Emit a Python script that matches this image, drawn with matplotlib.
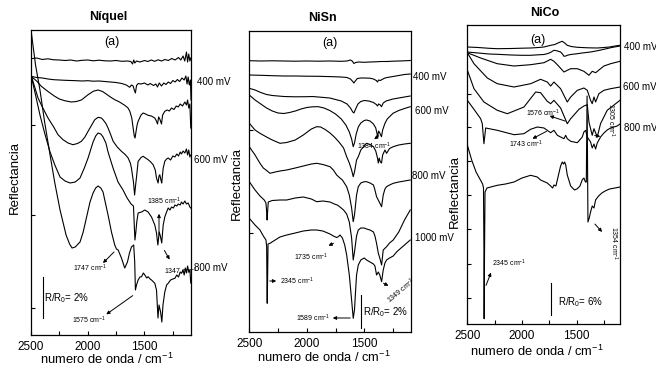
import matplotlib
matplotlib.use("Agg")
import matplotlib.pyplot as plt
from matplotlib.ticker import NullFormatter

plt.rcParams['font.family'] = ['Liberation Sans', 'DejaVu Sans']
plt.rcParams['mathtext.fontset'] = 'custom'
plt.rcParams['mathtext.rm'] = 'Liberation Sans'
plt.rcParams['mathtext.it'] = 'Liberation Sans:italic'

W, H = 656, 367

# ---------------- data (wavenumber cm-1, relative reflectance offset; larger = lower on plot) -------------
x_ticks = [2500, 2000, 1500]
x_minor = [2250, 1750, 1250]
x_labels = ['2500', '2000', '1500']

# Níquel panel
ni_a = [(2500,58.7),(2450,58),(2400,59.5),(2350,58.8),(2300,59.8),(2250,60),(2200,60.5),(2150,60),(2100,61),(2050,60.3),
        (2000,60),(1950,60.8),(1900,60.2),(1850,60.8),(1800,61),(1750,60.5),(1700,61.3),(1650,61),(1620,61.5),(1605,64),
        (1595,60),(1585,63),(1570,61),(1540,62),(1500,60.5),(1470,61.5),(1440,60),(1410,61.3),(1380,59.8),(1350,61),
        (1320,59.5),(1290,60.5),(1260,58.5),(1230,60),(1200,57.5),(1180,60),(1160,56),(1145,61),(1130,52),(1120,62),
        (1110,54),(1100,61),(1092,58)]
ni_b = [(2500,76.3),(2450,77.5),(2400,78),(2350,79),(2300,79.7),(2250,80),(2200,80.3),(2150,80.5),(2100,80.7),(2050,81),
        (2000,80.7),(1950,81.2),(1900,81),(1850,81.5),(1800,82),(1750,82.5),(1700,83.5),(1660,85),(1630,87.3),(1615,85),
        (1600,86),(1590,90),(1580,93),(1570,85.5),(1555,83.5),(1530,84),(1500,83),(1470,85),(1450,83.5),(1420,85.5),
        (1400,84),(1385,87),(1370,83),(1350,86),(1330,83),(1310,84.5),(1290,82),(1270,83.5),(1250,80.5),(1230,82),
        (1210,79.5),(1190,81.5),(1170,78),(1150,80),(1135,76),(1125,84),(1115,77),(1105,85),(1095,80),(1090,100)]
ni_c = [(2500,76.3),(2450,81),(2409,86.3),(2350,91.5),(2291,96.3),(2250,99),(2203,100.7),(2144,102),(2100,101.5),(2056,100),
        (1997,94.7),(1950,91.2),(1909,90),(1870,91.5),(1850,93),(1800,97),(1762,99.7),(1720,102),(1674,105.3),(1645,108),
        (1629,111.3),(1612,118),(1600,128),(1590,136),(1583,138),(1575,132),(1565,125),(1556,121.3),(1530,115),(1512,113),
        (1490,114),(1468,115.3),(1440,116),(1409,118),(1395,121),(1385,124),(1375,117),(1365,119),(1350,124),(1340,115),
        (1321,111.3),(1300,110),(1280,111),(1262,108),(1240,109.5),(1220,106),(1203,107),(1185,104),(1165,106),(1144,102),
        (1130,105),(1120,100),(1110,108),(1100,104),(1092,128)]
ni_d = [(2500,75),(2470,86),(2438,98),(2400,107),(2350,118),(2300,127),(2262,134.7),(2220,139.5),(2174,143),(2130,144.7),
        (2090,143.5),(2056,141.3),(2025,137),(1997,131.3),(1965,125),(1938,119.7),(1909,117.3),(1880,118),(1865,119.7),
        (1840,123.5),(1821,128),(1800,134),(1776,141.3),(1740,147),(1703,151.3),(1670,154.5),(1644,158),(1625,163),
        (1615,168),(1605,176),(1597,182),(1587,195),(1578,185),(1571,178),(1556,161.3),(1530,157.5),(1512,156.3),(1490,158),
        (1468,159.7),(1445,162),(1424,164.7),(1405,170),(1394,178),(1380,183),(1372,176),(1365,174.7),(1355,180),(1348,183),
        (1335,168),(1320,161),(1305,159),(1291,158),(1270,160),(1250,156),(1232,157),(1215,154),(1200,156),(1185,152),
        (1174,154),(1160,151),(1144,153),(1130,149),(1120,155),(1110,150),(1100,157),(1092,155)]
ni_e = [(2500,75),(2460,95),(2421,115),(2380,133),(2332,152),(2290,165),(2244,177),(2200,181),(2156,183),(2110,182),
        (2068,178),(2030,168),(1997,158),(1953,142),(1930,136),(1909,133),(1885,134),(1865,137),(1840,143),(1821,152),
        (1777,168),(1733,182),(1689,190),(1653,198),(1618,204),(1597,206),(1590,225),(1584,240),(1576,232),(1568,222),
        (1556,213),(1526,212),(1497,210),(1468,212),(1438,217),(1409,225),(1394,233),(1382,245),(1370,232),(1360,236),
        (1348,243),(1335,225),(1321,217),(1305,212),(1291,208),(1275,210),(1262,207),(1245,208),(1232,205),(1215,206),
        (1203,204),(1185,205),(1174,202),(1160,204),(1144,201),(1130,204),(1115,203),(1100,207),(1092,208)]
ni_f = [(2500,30),(2460,65),(2421,90),(2380,122),(2332,155),(2290,183),(2244,210),(2210,226),(2191,235),(2160,244),
        (2138,248),(2110,247),(2068,242),(2040,232),(2006,215),(1980,202),(1953,193),(1930,188),(1909,186),(1885,188),
        (1865,192),(1850,200),(1821,215),(1791,232),(1762,245),(1747,249),(1732,250),(1703,258),(1674,268),(1650,262),
        (1632,253),(1615,247),(1595,245),(1586,262),(1580,290),(1570,285),(1556,280),(1540,277),(1526,276.7),(1510,273),
        (1497,275),(1480,278),(1468,276.7),(1450,279),(1438,280),(1420,282),(1409,283.3),(1394,290),(1381,318),(1372,305),
        (1358,312),(1347,322),(1337,305),(1321,292),(1305,285),(1291,283.3),(1270,280),(1250,279),(1232,278.3),(1215,275),
        (1200,277),(1185,272),(1174,273.3),(1160,270),(1150,275),(1140,268),(1130,273),(1120,266),(1110,272),(1100,270),
        (1092,283)]
ni_curves = [ni_a, ni_b, ni_c, ni_d, ni_e, ni_f]

# NiSn panel
nisn_1 = [(2500,60.7),(2400,61),(2300,60.8),(2200,61),(2100,61.2),(2000,61),(1900,61.2),(1800,61),(1700,61.3),(1650,61),
          (1620,60),(1605,61),(1590,63.5),(1575,62.5),(1550,62),(1500,62.3),(1450,62),(1400,61.8),(1350,61.5),(1300,61.5),
          (1250,61.2),(1200,61),(1150,60.8),(1100,60.5)]
nisn_2 = [(2500,75),(2400,75.3),(2300,75.7),(2200,76),(2100,76),(2000,76.2),(1900,76.3),(1800,76.6),(1700,77),(1650,77.5),
          (1620,79),(1600,81.5),(1590,83),(1578,81),(1560,78.5),(1530,78),(1500,78),(1450,78.2),(1420,79),(1395,80.5),
          (1385,82),(1375,80),(1360,80.5),(1345,79.5),(1320,78),(1300,77.5),(1250,76.5),(1200,75.5),(1150,74.5),(1100,74)]
nisn_3 = [(2500,88.3),(2450,90),(2400,92.5),(2350,94.5),(2300,95.5),(2200,96.5),(2100,96.8),(2000,96.7),(1950,96.5),
          (1900,97),(1800,98),(1700,101),(1650,104),(1620,108),(1600,112),(1590,113),(1575,109),(1555,104),(1530,101.5),
          (1500,100.5),(1460,101),(1420,102.5),(1395,104.5),(1385,106),(1375,104),(1360,105),(1350,106.7),(1335,103),
          (1310,101),(1280,100),(1250,99),(1200,98),(1150,97),(1100,96)]
nisn_4 = [(2500,95),(2450,100),(2400,104),(2350,108),(2300,111),(2250,113),(2200,113.5),(2150,112.5),(2100,111),(2050,109),
          (2000,107.5),(1950,106.8),(1900,106.7),(1850,108),(1800,110.5),(1750,114),(1700,119),(1660,125),(1630,132),
          (1610,139),(1596,146.7),(1585,143),(1570,134),(1552,127),(1530,123),(1500,120.5),(1480,120),(1450,121),(1420,124),
          (1400,128),(1390,133),(1384,136.7),(1375,131),(1365,133),(1350,136.7),(1340,130),(1320,123.3),(1300,119),
          (1250,113.3),(1200,110.5),(1150,108.5),(1100,106.7)]
nisn_5 = [(2500,123.3),(2450,130),(2407,133.3),(2350,137),(2300,140),(2233,143.3),(2175,142.5),(2100,140),(2030,135),
          (1960,129),(1914,126.7),(1880,127),(1840,129.5),(1798,133),(1760,137),(1720,142),(1680,148),(1653,156.7),(1630,163),
          (1610,170),(1596,176.7),(1585,172),(1567,160),(1552,156.7),(1530,150),(1500,146),(1480,143.3),(1450,144.5),
          (1420,146.7),(1400,151),(1385,158),(1378,163),(1370,158),(1360,162),(1350,163),(1340,155),(1320,150),(1306,153.3),
          (1280,148.5),(1248,146.7),(1200,145),(1150,144),(1100,143.3)]
nisn_6 = [(2500,146.7),(2450,155),(2407,163.3),(2378,168),(2349,170.5),(2320,173.3),(2275,172),(2233,171),(2175,170),
          (2100,168),(2030,166),(1960,164),(1914,163.3),(1860,164.5),(1798,166.7),(1769,170),(1740,175),(1711,178),(1690,180),
          (1653,186.7),(1630,195),(1610,208),(1596,221.7),(1585,215),(1567,195),(1552,186.7),(1530,183),(1500,181.7),
          (1480,181.7),(1450,183),(1420,185),(1407,190),(1393,196.7),(1378,200),(1365,203),(1349,206.7),(1335,195),
          (1320,189),(1306,186.7),(1280,185),(1248,183.3),(1200,182),(1150,181),(1100,180)]
nisn_7 = [(2500,181.7),(2450,190),(2407,196),(2370,200),(2355,203),(2349,212),(2345,220),(2341,212),(2335,202),(2300,200.5),
          (2233,200),(2175,200),(2100,198),(2030,197),(1960,199),(1914,201.7),(1860,201),(1798,202),(1760,204),(1735,205),
          (1711,207),(1680,210),(1653,214),(1630,222),(1610,238),(1596,260),(1585,252),(1567,236),(1552,230),(1530,228),
          (1500,228),(1480,229),(1450,230),(1420,232),(1407,236),(1393,243.3),(1378,253),(1365,258),(1349,265),(1335,250),
          (1306,246.7),(1280,243),(1248,240),(1200,232),(1150,220),(1100,210)]
nisn_8 = [(2500,218.3),(2450,225),(2407,230),(2378,236),(2355,240),(2349,246.7),(2346,290),(2344,303.3),(2341,280),
          (2337,244),(2320,243.3),(2275,240),(2233,237),(2175,235),(2100,233),(2030,231),(1960,230),(1914,230),(1860,231),
          (1798,234),(1769,236),(1740,237.5),(1726,236.7),(1711,235),(1690,238),(1670,245),(1653,255),(1630,275),(1610,300),
          (1596,318.3),(1585,310),(1575,290),(1567,275),(1552,265),(1530,260),(1500,258),(1480,260),(1450,262),(1420,264),
          (1407,266),(1393,275),(1378,272),(1365,275),(1349,281.7),(1335,270),(1320,263),(1306,260),(1280,258),(1248,256),
          (1219,252),(1200,250),(1150,245),(1100,240)]
nisn_curves = [nisn_1, nisn_2, nisn_3, nisn_4, nisn_5, nisn_6, nisn_7, nisn_8]

# NiCo panel
nico_1 = [(2500,47),(2400,47.5),(2300,48.3),(2226,48.7),(2100,48.5),(2000,48.2),(1921,48),(1850,47.5),(1800,47),(1738,45.3),
          (1700,44.5),(1677,43.3),(1650,42),(1632,41.3),(1610,43),(1586,45.3),(1550,46.5),(1494,47.3),(1400,47.8),(1312,48),
          (1250,47.5),(1200,47),(1150,46),(1104,45.3)]
nico_2 = [(2500,52),(2400,53),(2300,54),(2226,54.3),(2100,55),(2000,55.3),(1921,55.3),(1850,54.8),(1800,54.5),(1769,53.7),
          (1740,52.5),(1708,50.3),(1680,50.8),(1647,52),(1630,54),(1616,56.3),(1600,56),(1586,55.3),(1555,54.5),(1494,53.7),
          (1450,53),(1373,52),(1300,50.5),(1251,49.3),(1180,47.5),(1104,46)]
nico_3 = [(2500,52.7),(2378,58),(2226,63.7),(2073,66),(1921,64.7),(1799,62.7),(1738,59.3),(1708,61.3),(1677,64.7),(1616,72),
          (1586,70.3),(1555,68.7),(1494,68.7),(1434,71.3),(1388,75.3),(1358,71.3),(1327,72.7),(1251,66),(1190,63.7),(1104,61.3)]
nico_4 = [(2500,52.7),(2439,63.7),(2317,78),(2226,83.7),(2073,87),(1921,83.7),(1830,79.3),(1769,82),(1738,86),(1708,82),
          (1647,88.7),(1586,102),(1555,97),(1494,90.3),(1434,88),(1403,90.3),(1373,100.3),(1358,103.7),(1342,97),(1327,102),
          (1297,93.7),(1251,90.3),(1190,88.7),(1104,87)]
nico_5 = [(2500,70),(2439,88.7),(2348,102),(2226,110.3),(2134,113.7),(1982,107),(1875,92),(1830,92.7),(1769,101.3),
          (1738,103.7),(1708,100.3),(1647,108),(1586,123.7),(1555,118.7),(1479,109.3),(1434,106),(1403,104.7),(1388,122),
          (1358,135.3),(1342,128.7),(1312,137),(1282,123.7),(1221,110.3),(1104,100.3)]
nico_6 = [(2500,100.3),(2439,109.3),(2378,118.7),(2363,123.7),(2348,143.7),(2332,128),(2226,130.3),(2073,134.7),(1982,133.7),
          (1921,129.3),(1860,127),(1799,128),(1738,132.7),(1708,130.3),(1677,135.3),(1647,137),(1616,138.7),(1601,135.3),
          (1586,138.7),(1555,141.3),(1494,142.7),(1449,137),(1434,132),(1418,130.3),(1403,137),(1373,142),(1358,148),
          (1342,144),(1327,149),(1312,143),(1282,137),(1251,133),(1221,130),(1190,128),(1160,127),(1130,126),(1104,124)]
nico_7 = [(2500,145),(2460,160),(2420,172),(2380,180),(2360,184),(2352,188),(2348,250),(2346,318.7),(2343,260),(2338,192),
          (2320,188),(2226,185.3),(2150,184),(2073,182),(2000,178),(1921,175.3),(1860,177),(1830,180),(1769,183),(1738,186),
          (1720,188),(1708,185),(1690,186),(1677,180),(1660,172),(1647,166),(1632,162),(1620,164),(1610,162),(1600,165),
          (1586,175),(1555,186),(1520,190),(1494,188.7),(1470,186),(1450,180),(1434,178),(1420,182),(1412,182),(1405,96),
          (1397,222),(1385,218),(1373,212),(1358,206),(1342,208),(1327,200),(1300,196),(1270,193),(1240,191),(1200,189),
          (1150,188),(1104,187)]
nico_curves = [nico_1, nico_2, nico_3, nico_4, nico_5, nico_6, nico_7]

# ---------------- figure ----------------
fig = plt.figure(figsize=(W / 100, H / 100), dpi=100)


def axes_px(left, top, right, bottom):
    return fig.add_axes([left / W, 1 - bottom / H, (right - left) / W, (bottom - top) / H])


def ftext(px, py, s, **kw):
    fig.text(px / W, 1 - py / H, s, **kw)


def farrow(x0, y0, x1, y1):
    fig.add_artist(matplotlib.patches.FancyArrowPatch(
        (x0 / W, 1 - y0 / H), (x1 / W, 1 - y1 / H), transform=fig.transFigure,
        arrowstyle='-|>', mutation_scale=5, lw=0.7, color='black'))


panels = [
    dict(box=(31, 30, 191, 335), curves=ni_curves, xlim=(2500, 1090), yticks=[125, 215, 308], title='Níquel',
         tpos=(108, 17), apos=(0.505, 0.96)),
    dict(box=(249.3, 30.7, 410.7, 331.7), curves=nisn_curves, xlim=(2500, 1096), yticks=[130, 233], title='NiSn',
         tpos=(322, 18), apos=(0.5, 0.96)),
    dict(box=(467.3, 25.3, 620, 324), curves=nico_curves, xlim=(2500, 1104),
         yticks=[94, 127, 161, 195, 229, 264, 298], title='NiCo', tpos=(545, 13), apos=(0.46, 0.951)),
]

axes = []
for p in panels:
    l, t, r, b = p['box']
    ax = axes_px(l, t, r, b)
    for c in p['curves']:
        xs = [q[0] for q in c]
        ys = [q[1] for q in c]
        ax.plot(xs, ys, color='black', lw=0.8)
    ax.set_xlim(*p['xlim'])
    ax.set_ylim(b, t)
    ax.set_xticks(x_ticks)
    ax.set_xticklabels(x_labels, fontsize=8.5)
    ax.set_xticks(x_minor, minor=True)
    ax.set_yticks(p['yticks'])
    ax.yaxis.set_major_formatter(NullFormatter())
    ax.tick_params(axis='both', which='both', direction='in', length=3, width=0.8, top=False, right=False, pad=4.5)
    for s in ax.spines.values():
        s.set_linewidth(0.9)
    ax.text(p['apos'][0], p['apos'][1], '(a)', transform=ax.transAxes, ha='center', va='center', fontsize=9)
    ftext(p['tpos'][0], p['tpos'][1], p['title'], ha='center', va='center', fontsize=9, fontweight='bold')
    axes.append(ax)

# axis labels
xl = 'numero de onda / cm$^{\\mathrm{-1}}$'
ftext(107, 364, xl, ha='center', va='baseline', fontsize=9.3)
ftext(324, 362, xl, ha='center', va='baseline', fontsize=9.3)
ftext(537, 356, xl, ha='center', va='baseline', fontsize=9.3)
ftext(15, 177, 'Reflectancia', rotation=90, ha='center', va='center', fontsize=9.5)
ftext(237, 184, 'Reflectancia', rotation=90, ha='center', va='center', fontsize=9.5)
ftext(455, 191, 'Reflectancia', rotation=90, ha='center', va='center', fontsize=9.5)

# potential labels
for px, py, s in [(197, 82, '400 mV'), (194, 160, '600 mV'), (194, 268, '800 mV'),
                  (413, 77, '400 mV'), (415, 111, '600 mV'), (412, 176, '800 mV'), (415, 238, '1000 mV'),
                  (624, 47, '400 mV'), (623, 87, '600 mV'), (624, 128, '800 mV')]:
    ftext(px, py, s, ha='left', va='center', fontsize=7)

# annotations
sm = 5
cm = ' cm$^{\\mathrm{-1}}$'
# Niquel
ftext(147, 201, '1385' + cm, ha='left', va='center', fontsize=sm)
farrow(159, 237, 159, 211)
ftext(164, 271, '1347' + cm, ha='left', va='center', fontsize=sm)
farrow(163, 248, 171, 262)
ftext(73, 268, '1747' + cm, ha='left', va='center', fontsize=sm)
farrow(116, 250, 101, 265)
ftext(72, 320, '1575' + cm, ha='left', va='center', fontsize=sm)
farrow(135, 294, 104, 316)
ftext(44, 298, 'R/R$_{\\mathrm{0}}$= 2%', ha='left', va='center', fontsize=7)
fig.add_artist(matplotlib.lines.Line2D([43 / W, 43 / W], [1 - 277 / H, 1 - 318 / H], color='black', lw=0.8))
# NiSn
ftext(357, 146, '1384' + cm, ha='left', va='center', fontsize=sm)
farrow(381, 134, 372, 141)
ftext(294, 257, '1735' + cm, ha='left', va='center', fontsize=sm)
farrow(336, 242, 326, 247)
ftext(280, 281, '2345' + cm, ha='left', va='center', fontsize=sm)
farrow(267, 281, 279, 281)
ftext(296, 318, '1589' + cm, ha='left', va='center', fontsize=sm)
farrow(353, 318, 330, 318)
ftext(385, 291, '1349' + cm, ha='left', va='center', fontsize=sm, rotation=40)
farrow(381, 282, 391, 287)
ftext(363, 312, 'R/R$_{\\mathrm{0}}$= 2%', ha='left', va='center', fontsize=7)
fig.add_artist(matplotlib.lines.Line2D([361 / W, 361 / W], [1 - 295 / H, 1 - 328 / H], color='black', lw=0.8))
# NiCo
ftext(526, 113, '1576' + cm, ha='left', va='center', fontsize=sm)
farrow(568, 122, 547, 115)
ftext(509, 144, '1743' + cm, ha='left', va='center', fontsize=sm)
farrow(549, 130, 530, 140)
ftext(611, 120, '1305' + cm, ha='center', va='center', fontsize=sm, rotation=-90)
farrow(592, 135, 603, 137)
ftext(614, 243, '1354' + cm, ha='center', va='center', fontsize=sm, rotation=-90)
farrow(593, 222, 604, 234)
ftext(492, 263, '2345' + cm, ha='left', va='center', fontsize=sm)
farrow(485, 288, 492, 270)
ftext(558, 302, 'R/R$_{\\mathrm{0}}$= 6%', ha='left', va='center', fontsize=7)
fig.add_artist(matplotlib.lines.Line2D([551 / W, 551 / W], [1 - 283 / H, 1 - 315 / H], color='black', lw=0.8))

fig.savefig('out.png', dpi=100)
